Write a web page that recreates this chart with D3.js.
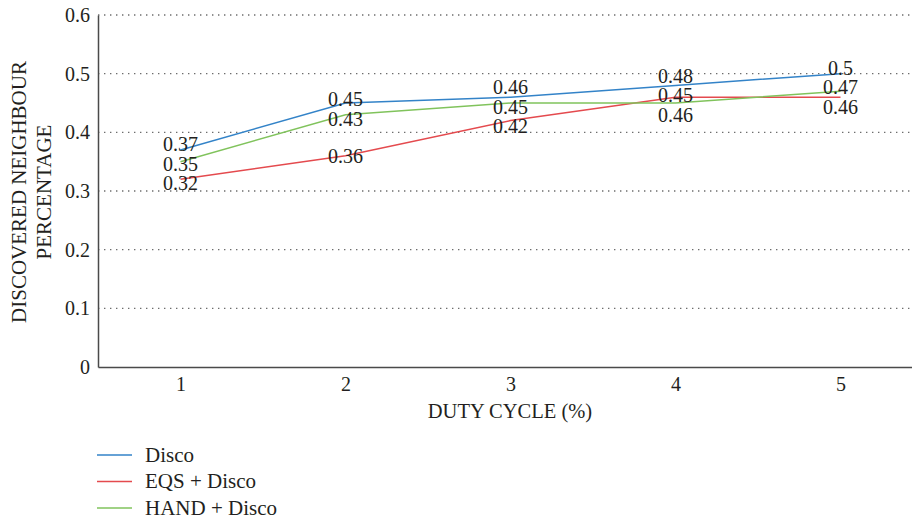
<!DOCTYPE html>
<html>
<head>
<meta charset="utf-8">
<script src="https://cdn.jsdelivr.net/npm/d3@7"></script>
<style>
  html, body { margin: 0; padding: 0; background: #fff; }
  svg { display: block; }
  text { font-family: "Liberation Serif", "DejaVu Serif", serif; fill: #231f20; }
</style>
</head>
<body>
<svg id="chart" width="912" height="525"></svg>
<script>
// Duty cycle categories and discovered-neighbour percentage per scheme
const dutyCycles = ["1", "2", "3", "4", "5"];
const disco = [0.37, 0.45, 0.46, 0.48, 0.5];
const eqsDisco = [0.32, 0.36, 0.42, 0.46, 0.46];
const handDisco = [0.35, 0.43, 0.45, 0.45, 0.47];
const yTicks = [0, 0.1, 0.2, 0.3, 0.4, 0.5, 0.6];

const seriesNames = ["Disco", "EQS + Disco", "HAND + Disco"];
const seriesValues = [disco, eqsDisco, handDisco];
const seriesColors = ["#3383c8", "#e44a4e", "#80c35c"];
// top-to-bottom stacking order of value labels at each category
const labelOrder = [0, 2, 1];

const svg = d3.select("#chart");
const plotLeft = 98, plotTop = 15, plotBottom = 367, plotRight = 923;

const x = d3.scalePoint().domain(dutyCycles).range([plotLeft, plotRight]).padding(0.5);
const y = d3.scaleLinear().domain([0, 0.6]).range([plotBottom, plotTop]);

// dotted horizontal gridlines
svg.append("g").selectAll("line")
  .data(yTicks.filter(t => t > 0))
  .join("line")
  .attr("x1", plotLeft).attr("x2", 912)
  .attr("y1", d => y(d)).attr("y2", d => y(d))
  .attr("stroke", "#6d6d6d").attr("stroke-width", 1.4)
  .attr("stroke-dasharray", "1.4,4.6");

// y axis
const yAxis = svg.append("g")
  .attr("transform", `translate(${plotLeft},0)`)
  .call(d3.axisLeft(y).tickValues(yTicks).tickSize(0).tickPadding(8).tickFormat(d => d === 0 ? "0" : d3.format(".1f")(d)));
yAxis.select(".domain").attr("stroke", "#4a4a4a").attr("stroke-width", 1.5);
yAxis.selectAll("text").style("font-size", "20px").style("font-family", "Liberation Serif, serif").attr("fill", "#231f20");

// x axis
const xAxis = svg.append("g")
  .attr("transform", `translate(0,${plotBottom})`)
  .call(d3.axisBottom(x).tickSize(0).tickPadding(10));
xAxis.select(".domain").attr("stroke", "#4a4a4a").attr("stroke-width", 1.5);
xAxis.selectAll("text").style("font-size", "20px").style("font-family", "Liberation Serif, serif").attr("fill", "#231f20");

// axis titles
svg.append("text")
  .attr("x", 510).attr("y", 418)
  .attr("text-anchor", "middle")
  .style("font-size", "20.5px")
  .text("DUTY CYCLE (%)");

const yTitle = svg.append("text")
  .attr("transform", "translate(0,192) rotate(-90)")
  .attr("text-anchor", "middle")
  .style("font-size", "21px");
yTitle.append("tspan").attr("x", 0).attr("y", 26).text("DISCOVERED NEIGHBOUR");
yTitle.append("tspan").attr("x", 0).attr("y", 51).text("PERCENTAGE");

// series lines
const line = d3.line().x((d, i) => x(dutyCycles[i])).y(d => y(d));
svg.append("g").selectAll("path")
  .data(seriesValues)
  .join("path")
  .attr("d", d => line(d))
  .attr("fill", "none")
  .attr("stroke", (d, i) => seriesColors[i])
  .attr("stroke-width", 1.5);

// value labels: start at each point, then spread apart vertically so they don't overlap
const gap = 19.5;
const labels = [];
dutyCycles.forEach((c, ci) => {
  const group = labelOrder.map(si => ({ si, ci, v: seriesValues[si][ci], ly: y(seriesValues[si][ci]) }));
  for (let iter = 0; iter < 200; iter++) {
    for (let k = 0; k < group.length - 1; k++) {
      const a = group[k], b = group[k + 1];
      const d = b.ly - a.ly;
      if (d < gap) {
        const push = (gap - d) / 2;
        a.ly -= push * 0.5;
        b.ly += push * 0.5;
      }
    }
  }
  labels.push(...group);
});

svg.append("g").selectAll("text")
  .data(labels)
  .join("text")
  .attr("x", d => x(dutyCycles[d.ci]))
  .attr("y", d => d.ly)
  .attr("dy", "0.35em")
  .attr("text-anchor", "middle")
  .style("font-size", "20px")
  .text(d => d3.format("")(d.v));

// legend
const legend = svg.append("g").selectAll("g")
  .data(seriesNames)
  .join("g")
  .attr("transform", (d, i) => `translate(97,${455 + i * 26.5})`);
legend.append("line")
  .attr("x1", 0).attr("x2", 35)
  .attr("stroke", (d, i) => seriesColors[i])
  .attr("stroke-width", 1.4);
legend.append("text")
  .attr("x", 48).attr("dy", "0.33em")
  .style("font-size", "21px")
  .text(d => d);
</script>
</body>
</html>
